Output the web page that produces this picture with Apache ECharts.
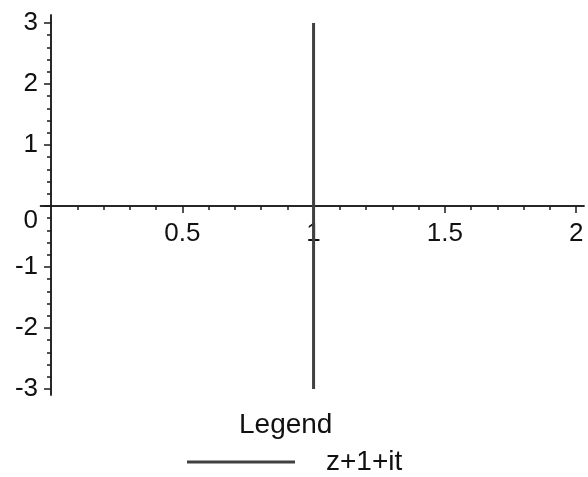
<!DOCTYPE html>
<html>
<head>
<meta charset="utf-8">
<script src="https://cdn.jsdelivr.net/npm/echarts@6/dist/echarts.min.js"></script>
<style>
html, body { margin: 0; padding: 0; background: #fff; }
#chart { width: 588px; height: 477px; }
</style>
</head>
<body>
<div id="chart"></div>
<script>
// Curve w(t) = z + 1 + i t with z = 0, t from -3 to 3: the vertical segment Re(w) = 1
const curveName = 'z+1+it';
const curveRe = [1, 1];
const curveIm = [-3, 3];

// Labelled (major) ticks
const xMajorTicks = [0.5, 1, 1.5, 2];
const xMajorLabels = ['0.5', '1', '1.5', '2'];
const yMajorTicks = [-3, -2, -1, 0, 1, 2, 3];
const yMajorLabels = ['-3', '-2', '-1', '0', '1', '2', '3'];

// Small unlabelled ticks
const xMinorTicks = [0.1, 0.2, 0.3, 0.4, 0.6, 0.7, 0.8, 0.9, 1.1, 1.2, 1.3, 1.4, 1.6, 1.7, 1.8, 1.9];
const yMinorTicks = [-2.8, -2.6, -2.4, -2.2, -1.8, -1.6, -1.4, -1.2, -0.8, -0.6, -0.4, -0.2,
                     0.2, 0.4, 0.6, 0.8, 1.2, 1.4, 1.6, 1.8, 2.2, 2.4, 2.6, 2.8];

const FONT = "'Liberation Sans', Arial, Helvetica, sans-serif";
const INK = '#111';
const AXIS_COLOR = '#1a1a1a';
const CURVE_COLOR = '#404040';

const WIDTH = 588, HEIGHT = 477;
const GRID = { left: 40.5, right: 4, top: 15, bottom: 82 };
const X_MIN = -0.04, X_MAX = 2.03;
const Y_MIN = -3.1, Y_MAX = 3.13;

// The axes cross at the origin: shift each axis from the grid edge to zero
const plotW = WIDTH - GRID.left - GRID.right;
const plotH = HEIGHT - GRID.top - GRID.bottom;
const yAxisShift = -(0 - X_MIN) / (X_MAX - X_MIN) * plotW;
const xAxisShift = -(0 - Y_MIN) / (Y_MAX - Y_MIN) * plotH;

function labelFor(ticks, labels) {
  return function (v) {
    for (let i = 0; i < ticks.length; i++) {
      if (Math.abs(ticks[i] - v) < 1e-9) return labels[i];
    }
    return '';
  };
}

const axisLineStyle = { color: AXIS_COLOR, width: 1.5 };

const chart = echarts.init(document.getElementById('chart'), null, { renderer: 'canvas' });

chart.setOption({
  animation: false,
  backgroundColor: '#fff',
  textStyle: { fontFamily: FONT },
  grid: {
    left: GRID.left, right: GRID.right, top: GRID.top, bottom: GRID.bottom,
    containLabel: false,
    outerBoundsMode: 'none'
  },
  title: {
    text: 'Legend',
    left: 239, top: 411,
    padding: 0,
    textStyle: { fontFamily: FONT, fontSize: 28, fontWeight: 'normal', color: INK }
  },
  legend: {
    data: [{ name: curveName, icon: 'rect' }],
    left: 187, top: 448,
    padding: 0,
    itemWidth: 108, itemHeight: 3,
    itemStyle: { color: CURVE_COLOR },
    textStyle: { fontFamily: FONT, fontSize: 28, color: INK, padding: [6, 0, 0, 26] }
  },
  xAxis: [
    {
      type: 'value', min: X_MIN, max: X_MAX, position: 'bottom', offset: xAxisShift,
      axisLine: { onZero: false, lineStyle: axisLineStyle },
      axisTick: { customValues: xMajorTicks, length: 7, lineStyle: axisLineStyle },
      axisLabel: {
        customValues: xMajorTicks, margin: 15,
        fontFamily: FONT, fontSize: 26, color: INK,
        formatter: labelFor(xMajorTicks, xMajorLabels)
      },
      splitLine: { show: false }
    },
    {
      type: 'value', min: X_MIN, max: X_MAX, position: 'bottom', offset: xAxisShift,
      axisLine: { onZero: false, lineStyle: axisLineStyle },
      axisTick: { customValues: xMinorTicks, length: 4, lineStyle: axisLineStyle },
      axisLabel: { show: false },
      splitLine: { show: false }
    }
  ],
  yAxis: [
    {
      type: 'value', min: Y_MIN, max: Y_MAX, position: 'left', offset: yAxisShift,
      axisLine: { onZero: false, lineStyle: axisLineStyle },
      axisTick: { customValues: yMajorTicks, length: 7, lineStyle: axisLineStyle },
      axisLabel: {
        customValues: yMajorTicks, margin: 13,
        fontFamily: FONT, fontSize: 26, color: INK,
        formatter: function (v) {
          const s = labelFor(yMajorTicks, yMajorLabels)(v);
          // the zero label sits below the horizontal axis
          return Math.abs(v) < 1e-9 ? '{low|' + s + '}' : s;
        },
        rich: {
          low: { fontFamily: FONT, fontSize: 26, color: INK, padding: [30, 0, 0, 0] }
        }
      },
      splitLine: { show: false }
    },
    {
      type: 'value', min: Y_MIN, max: Y_MAX, position: 'left', offset: yAxisShift,
      axisLine: { onZero: false, lineStyle: axisLineStyle },
      axisTick: { customValues: yMinorTicks, length: 4, lineStyle: axisLineStyle },
      axisLabel: { show: false },
      splitLine: { show: false }
    }
  ],
  series: [
    {
      name: curveName,
      type: 'line',
      xAxisIndex: 0, yAxisIndex: 0,
      data: curveRe.map(function (x, i) { return [x, curveIm[i]]; }),
      symbol: 'none',
      lineStyle: { color: CURVE_COLOR, width: 3 },
      itemStyle: { color: CURVE_COLOR },
      z: 3
    }
  ]
});
</script>
</body>
</html>
